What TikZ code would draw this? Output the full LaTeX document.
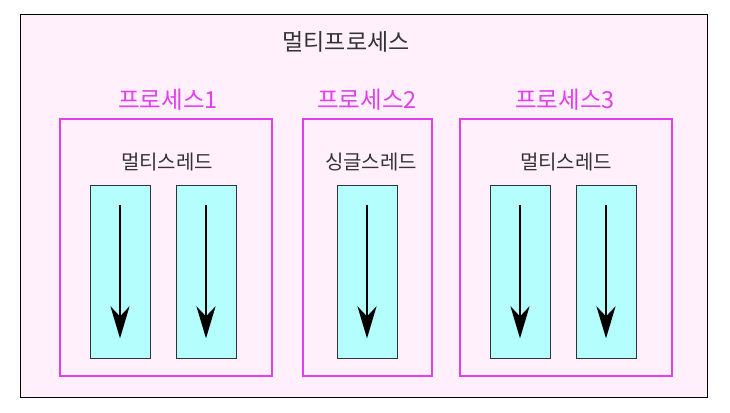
\documentclass[tikz,border=0pt]{standalone}
\usepackage{fontspec}
\setmainfont{Noto Sans CJK KR}
\usetikzlibrary{arrows.meta}
\definecolor{outerfill}{HTML}{FFF0FC}
\definecolor{procmag}{HTML}{E23FEE}
\definecolor{threadfill}{HTML}{B4FFFD}
\definecolor{txt}{HTML}{333333}
\tikzset{
  outerbox/.style={draw=black, line width=1pt, fill=outerfill, minimum width=687pt, minimum height=382pt, inner sep=0pt},
  procbox/.style={draw=procmag, line width=1.6pt, minimum height=257pt, inner sep=0pt},
  threadbox/.style={draw=txt, line width=0.8pt, fill=threadfill, minimum width=60pt, minimum height=173pt, inner sep=0pt},
  titletext/.style={text=txt, font=\fontsize{23}{27}\selectfont},
  proctext/.style={text=procmag, font=\fontsize{23.5}{27}\selectfont},
  innertext/.style={text=txt, font=\fontsize{20}{24}\selectfont},
  flow/.style={line width=2.6pt, -{Stealth[length=32pt, width=19pt, inset=10pt]}}
}
\begin{document}
\begin{tikzpicture}[x=1pt, y=-1pt]
\useasboundingbox (0,0) rectangle (730,412);
\node[outerbox] (outer) at (363.5,206) {};
\node[titletext] (title) at (346,42) {멀티프로세스};
% processes
\node[procbox, minimum width=212pt] (p1) at (166,247.5) {};
\node[procbox, minimum width=129pt] (p2) at (367.5,247.5) {};
\node[procbox, minimum width=212pt] (p3) at (566,247.5) {};
\node[proctext] (l1) at (168,100) {프로세스1};
\node[proctext] (l2) at (367,100) {프로세스2};
\node[proctext] (l3) at (565,100) {프로세스3};
\node[innertext] (i1) at (167,162) {멀티스레드};
\node[innertext] (i2) at (371,162) {싱글스레드};
\node[innertext] (i3) at (566,162) {멀티스레드};
% threads
\foreach \n/\x in {t1/120, t2/206, t3/367, t4/520, t5/606} {
  \node[threadbox] (\n) at (\x,271.5) {};
  \draw[flow] ([yshift=-20pt]\n.north) -- ([yshift=20pt]\n.south);
}
\end{tikzpicture}
\end{document}
